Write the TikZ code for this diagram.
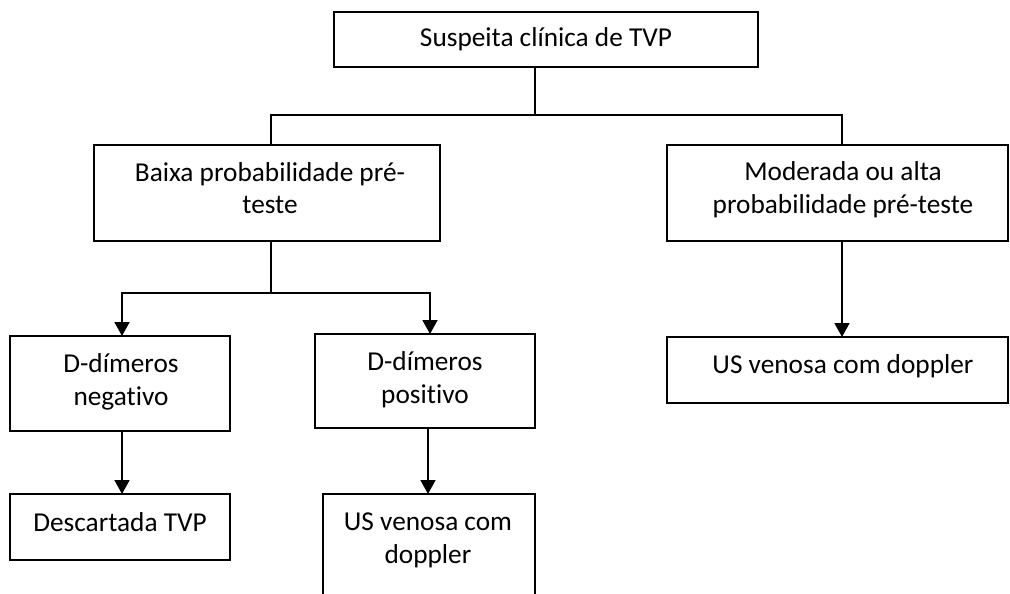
\documentclass[tikz,border=0pt]{standalone}
\usepackage{fontspec}
\setmainfont{Carlito}[Ligatures=NoCommon]
\usetikzlibrary{arrows.meta}
\tikzset{
  box/.style={draw=black, line width=1.7pt, rectangle, inner sep=0pt, outer sep=0pt, anchor=north west},
  txt/.style={anchor=base, inner sep=0pt, font=\fontsize{27.3}{33}\selectfont},
  conn/.style={draw=black, line width=1.7pt},
  arr/.style={conn, -{Triangle[width=15pt,length=14pt]}},
  arr2/.style={conn, {Triangle[width=15pt,length=14pt]}-{Triangle[width=15pt,length=14pt]}}
}
\begin{document}
\begin{tikzpicture}[x=1pt,y=-1pt]
\clip (0,0) rectangle (1010,594);
\useasboundingbox (0,0) rectangle (1010,594);
\fill[white] (0,0) rectangle (1010,594);

% boxes
\node[box, minimum width=424pt, minimum height=55pt] (top) at (334,12) {};
\node[box, minimum width=346pt, minimum height=96pt] (baixa) at (94,145) {};
\node[box, minimum width=341pt, minimum height=96pt] (mod) at (667,145) {};
\node[box, minimum width=220pt, minimum height=95pt] (neg) at (10,336) {};
\node[box, minimum width=220pt, minimum height=94pt] (pos) at (315,334) {};
\node[box, minimum width=220pt, minimum height=66pt] (desc) at (10,494) {};
\node[box, minimum width=212pt, minimum height=130pt] (usl) at (323,494) {};
\node[box, minimum width=341pt, minimum height=66pt] (usr) at (667,337) {};

% texts
\node[txt] (t1) at (546,47) {Suspeita clínica de TVP};
\node[txt] (t2a) at (270,181) {Baixa probabilidade pré-};
\node[txt] (t2b) at (270,213) {teste};
\node[txt] (t3a) at (843,180) {Moderada ou alta};
\node[txt] (t3b) at (843,213) {probabilidade pré-teste};
\node[txt] (t4a) at (121,372) {D-dímeros};
\node[txt] (t4b) at (121,405) {negativo};
\node[txt] (t5a) at (425,370) {D-dímeros};
\node[txt] (t5b) at (425,403) {positivo};
\node[txt] (t6) at (120,531) {Descartada TVP};
\node[txt] (t7a) at (428,530) {US venosa com};
\node[txt] (t7b) at (428,563) {doppler};
\node[txt] (t8) at (843,373) {US venosa com doppler};

% junction coordinates
\coordinate (j1) at (535,115);
\coordinate (hl) at (271,115);
\coordinate (hr) at (842,115);
\coordinate (j2) at (271,293);
\coordinate (l2) at (122,293);
\coordinate (r2) at (430,293);
\coordinate (xn) at (122,0);
\coordinate (xp) at (428,0);

% connectors
\draw[conn] (top.south -| j1) -- (j1);
\draw[conn] (baixa.north -| hl) -- (hl) -- (hr) -- (mod.north -| hr);
\draw[conn] (baixa.south -| j2) -- (j2);
\draw[arr2] (neg.north -| l2) -- (l2) -- (r2) -- (pos.north -| r2);
\draw[arr] (neg.south -| xn) -- (desc.north -| xn);
\draw[arr] (pos.south -| xp) -- (usl.north -| xp);
\draw[arr] (mod.south -| hr) -- (usr.north -| hr);
\end{tikzpicture}
\end{document}
